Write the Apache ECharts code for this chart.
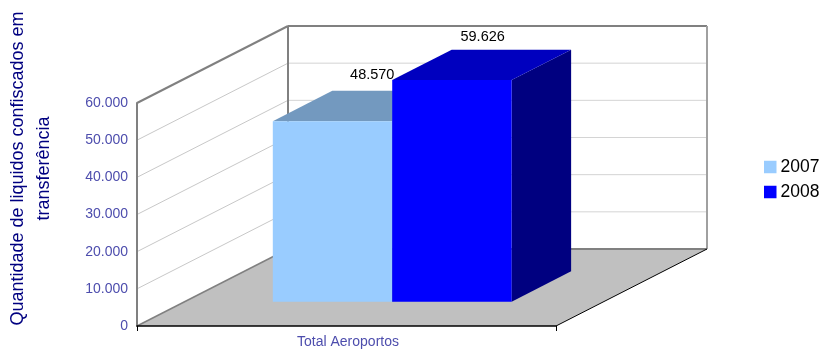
<!DOCTYPE html>
<html><head><meta charset="utf-8">
<style>html,body{margin:0;padding:0;background:#fff}#c{width:823px;height:351px}</style>
<script src="https://cdn.jsdelivr.net/npm/echarts@6/dist/echarts.min.js"></script>
</head><body><div id="c"></div>
<script>
const categories = ['Total Aeroportos'];
const seriesNames = ['2007', '2008'];
const values2007 = [48570];
const values2008 = [59626];
const yTicks = [0, 10000, 20000, 30000, 40000, 50000, 60000];
const yTitle = 'Quantidade de liquidos confiscados em\ntransferência';

const DX = 151, DY = -77;
const FONT = '"Liberation Sans", Arial, sans-serif';
const fmt = v => String(v).replace(/\B(?=(\d{3})+$)/g, '.');
const BAR = [
  {front:'#99ccff', top:'#7399bf', side:'#5c7a99', labelDx:10, labelDy:-16},
  {front:'#0000ff', top:'#0000bf', side:'#000080', labelDx:1, labelDy:-13}
];
const D0 = 0.316, D1 = 0.71, BW = 0.285, SHIFT = -2;

function wallsItem(params, api) {
  const P = (p, d) => [p[0] + DX * d, p[1] + DY * d];
  const half = api.size([1, 0])[0] / 2;
  const c0 = api.coord([0, 0]), cTop = api.coord([0, yTicks[yTicks.length - 1]]);
  const a = [c0[0] - half, c0[1]], b = [c0[0] + half, c0[1]];
  const t = [c0[0] - half, cTop[1]], tr = [c0[0] + half, cTop[1]];
  const ln = (p, q, color, w) => ({type:'line', shape:{x1:p[0],y1:p[1],x2:q[0],y2:q[1]}, style:{stroke:color, lineWidth:w}, silent:true});
  const kids = [
    {type:'polygon', shape:{points:[a, b, P(b,1), P(a,1)]}, style:{fill:'#c0c0c0'}, silent:true}
  ];
  yTicks.slice(1, -1).forEach(v => {
    const y = api.coord([0, v])[1];
    const p = [a[0], y], q = [b[0], y];
    kids.push(ln(p, P(p,1), '#c8c8c8', 1));
    kids.push(ln(P(p,1), P(q,1), '#d4d4d4', 1));
  });
  kids.push(ln(t, P(t,1), '#808080', 2));
  kids.push(ln(P(t,1), P(tr,1), '#808080', 2));
  kids.push(ln(P(a,1), P(t,1), '#808080', 2));
  kids.push(ln(P(b,1), P(tr,1), '#a0a0a0', 2));
  kids.push(ln(P(a,1), P(b,1), '#808080', 2));
  kids.push(ln(a, P(a,1), '#808080', 1.5));
  kids.push(ln(b, P(b,1), '#000000', 1));
  return {type:'group', children:kids};
}

function barItem(i) {
  return function (params, api) {
    const cat = api.value(0), v = api.value(1), c = BAR[i];
    const w = api.size([1, 0])[0] * BW;
    const base = api.coord([cat, 0]), topP = api.coord([cat, v]);
    const x0 = base[0] + SHIFT + (i - 1) * w, x1 = x0 + w;
    const P = (x, y, d) => [x + DX * d, y + DY * d];
    const fbl = P(x0, base[1], D0), fbr = P(x1, base[1], D0), ftl = P(x0, topP[1], D0), ftr = P(x1, topP[1], D0);
    const bbr = P(x1, base[1], D1), btl = P(x0, topP[1], D1), btr = P(x1, topP[1], D1);
    return {type:'group', children:[
      {type:'polygon', shape:{points:[fbr, bbr, btr, ftr]}, style:{fill:c.side}},
      {type:'polygon', shape:{points:[ftl, ftr, btr, btl]}, style:{fill:c.top}},
      {type:'polygon', shape:{points:[fbl, fbr, ftr, ftl]}, style:{fill:c.front}},
      {type:'text', x:(ftl[0] + btr[0]) / 2 + c.labelDx, y:btr[1] + c.labelDy,
       style:{text:fmt(v), fill:'#000', font:'14.5px ' + FONT, align:'center', verticalAlign:'middle'}}
    ]};
  };
}

const chart = echarts.init(document.getElementById('c'), null, {renderer:'canvas'});
chart.setOption({
  animation:false,
  backgroundColor:'#fff',
  grid:{left:137, top:103, width:419, height:223},
  xAxis:{type:'category', data:categories, z:10,
    axisLine:{show:true, lineStyle:{color:'#000', width:1.5}},
    axisTick:{show:true, length:5, lineStyle:{color:'#000'}},
    axisLabel:{color:'#4d4dad', fontFamily:FONT, fontSize:14, margin:9, padding:[0,0,0,3]}},
  yAxis:{type:'value', min:0, max:60000, interval:10000, z:10,
    axisLine:{show:true, lineStyle:{color:'#808080', width:2}},
    axisTick:{show:false}, splitLine:{show:false},
    axisLabel:{color:'#4d4dad', fontFamily:FONT, fontSize:14, margin:9, formatter:fmt}},
  legend:{orient:'vertical', left:764, top:158, padding:0, itemWidth:12.5, itemHeight:12.5, itemGap:7, icon:'rect',
    data:seriesNames, textStyle:{color:'#000', fontFamily:FONT, fontSize:17.5, padding:[0,0,0,-1]}},
  graphic:[{type:'text', rotation:Math.PI/2, x:31, y:168.5, z:20,
    style:{text:yTitle, fill:'#000080', font:'18px ' + FONT, align:'center', verticalAlign:'middle', lineHeight:26}}],
  series:[
    {type:'custom', name:'walls', z:1, clip:false, silent:true, renderItem:wallsItem, encode:{x:0,y:1}, data:[[0,0]]},
    {type:'custom', name:seriesNames[0], z:2, clip:false, renderItem:barItem(0), itemStyle:{color:BAR[0].front}, encode:{x:0,y:1}, data:values2007.map((v,k)=>[k,v])},
    {type:'custom', name:seriesNames[1], z:3, clip:false, renderItem:barItem(1), itemStyle:{color:BAR[1].front}, encode:{x:0,y:1}, data:values2008.map((v,k)=>[k,v])}
  ]
});
</script></body></html>
